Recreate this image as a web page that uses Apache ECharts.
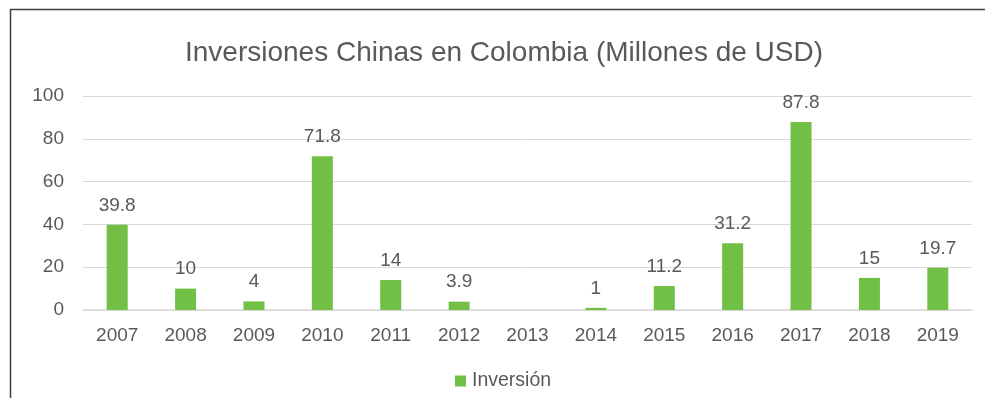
<!DOCTYPE html>
<html>
<head>
<meta charset="utf-8">
<script src="https://cdn.jsdelivr.net/npm/echarts@6/dist/echarts.min.js"></script>
<style>
  html, body { margin: 0; padding: 0; background: #fff; }
  #chart { width: 985px; height: 398px; }
</style>
</head>
<body>
<div id="chart"></div>
<script>
// Annual Chinese investment in Colombia, millions of USD
const years = ['2007', '2008', '2009', '2010', '2011', '2012', '2013', '2014', '2015', '2016', '2017', '2018', '2019'];
const inversion = [39.8, 10, 4, 71.8, 14, 3.9, null, 1, 11.2, 31.2, 87.8, 15, 19.7];
const yTicks = [0, 20, 40, 60, 80, 100];

const textColor = '#595959';
const font = 'Arial, "Liberation Sans", sans-serif';

const chart = echarts.init(document.getElementById('chart'));
chart.setOption({
  animation: false,
  backgroundColor: '#ffffff',
  textStyle: { fontFamily: font },
  graphic: [{
    type: 'rect',
    shape: { x: 10.5, y: 9.5, width: 1000, height: 500 },
    style: { fill: 'none', stroke: '#404040', lineWidth: 1.5 },
    silent: true
  }],
  title: {
    text: 'Inversiones Chinas en Colombia (Millones de USD)',
    left: 185,
    top: 39,
    padding: 0,
    textStyle: { color: textColor, fontSize: 28, fontWeight: 'normal', fontFamily: font }
  },
  legend: {
    bottom: 7,
    left: 455,
    padding: 0,
    itemWidth: 11,
    itemHeight: 11,
    itemGap: 4,
    icon: 'rect',
    textStyle: { color: textColor, fontSize: 19.5, fontFamily: font, padding: [0, 0, 0, 1] },
    data: ['Inversión']
  },
  grid: { left: 83, right: 13, top: 96, bottom: 88 },
  xAxis: {
    type: 'category',
    data: years,
    axisLine: { lineStyle: { color: '#d9d9d9', width: 1.5 } },
    axisTick: { show: false },
    axisLabel: { color: textColor, fontSize: 19, margin: 16, fontFamily: font }
  },
  yAxis: {
    type: 'value',
    min: yTicks[0],
    max: yTicks[yTicks.length - 1],
    interval: yTicks[1] - yTicks[0],
    axisLine: { show: false },
    axisTick: { show: false },
    axisLabel: { color: textColor, fontSize: 19, margin: 19, fontFamily: font },
    splitLine: { lineStyle: { color: '#d9d9d9', width: 1 } }
  },
  series: [{
    name: 'Inversión',
    type: 'bar',
    data: inversion,
    barWidth: 21,
    itemStyle: { color: '#71bf44' },
    label: {
      show: true,
      position: 'top',
      distance: 10,
      color: textColor,
      fontSize: 19,
      fontFamily: font
    }
  }]
});
</script>
</body>
</html>
